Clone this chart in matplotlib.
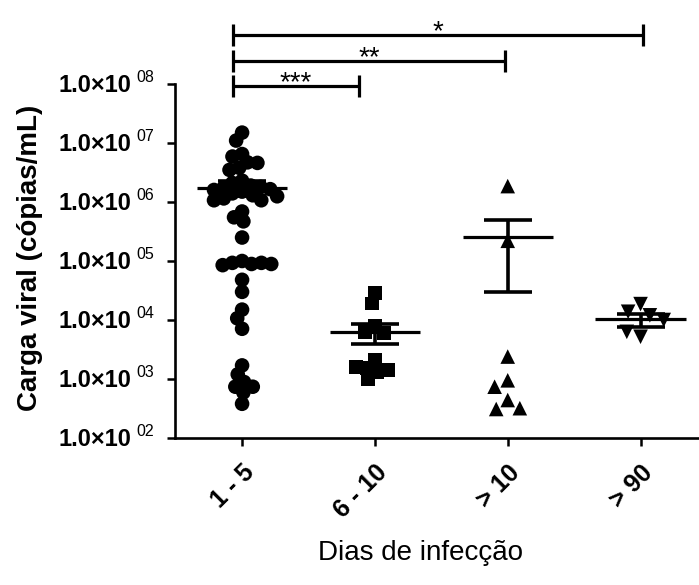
import matplotlib
matplotlib.use("Agg")
import matplotlib.pyplot as plt
import matplotlib.transforms as mtransforms
import numpy as np

plt.rcParams["font.family"] = ["Liberation Sans", "DejaVu Sans"]

# dados
grupos = ["1 - 5", "6 - 10", "> 10", "> 90"]
carga_1_5 = [1.5e7, 1.1e7, 6.5e6, 5.9e6, 4.7e6, 4.6e6, 3.8e6, 3.5e6, 2.3e6,
             2.1e6, 1.9e6, 1.8e6, 1.75e6, 1.65e6, 1.6e6, 1.5e6, 1.4e6, 1.3e6,
             1.25e6, 1.15e6, 1.07e6, 1.07e6, 6.9e5, 5.5e5, 4.7e5, 2.5e5,
             1.0e5, 9.3e4, 8.9e4, 9.3e4, 8.5e4, 8.9e4, 4.8e4, 3.0e4, 1.5e4,
             1.07e4, 7.1e3, 1.7e3, 1.2e3, 8.9e2, 7.4e2, 7.4e2, 5.9e2, 3.8e2]
carga_6_10 = [2.9e4, 1.9e4, 7.8e3, 6.3e3, 6.0e3, 2.1e3, 1.55e3, 1.3e3, 1.0e3,
              1.4e3, 1.6e3]
carga_10 = [1.86e6, 2.2e5, 2.4e3, 9.5e2, 7.4e2, 4.4e2, 3.1e2, 3.2e2]
carga_90 = [1.86e4, 1.38e4, 1.2e4, 1.0e4, 5.2e3, 6.3e3]
medias = [1.74e6, 6.3e3, 2.6e5, 1.02e4]
epm = [5.0e5, 2.4e3, 2.3e5, 2.5e3]
expoentes = [2, 3, 4, 5, 6, 7, 8]
comparacoes = [("***", 0.88, 7.97), ("**", 1.98, 8.39), ("*", 3.02, 8.83)]

dados = [carga_1_5, carga_6_10, carga_10, carga_90]
marcadores = ["o", "s", "^", "v"]
tamanhos = [10.5, 10, 10.5, 10.5]
folga = [0.68, 0.8, 1.0, 1.0]

fig = plt.figure(figsize=(6.99, 5.85), dpi=100)
ax = fig.add_axes([175 / 699, 1 - 438 / 585, 524 / 699, 354 / 585])
ax.set_yscale("log")
ax.set_ylim(1e2, 1e8)
ax.set_xlim(-0.505, 3.44)


def swarm(ypix, d):
    xs = np.zeros(len(ypix))
    feitos = []
    for i in range(len(ypix)):
        y = ypix[i]
        cands = [0.0]
        ints = []
        for px, py in feitos:
            dy = abs(py - y)
            if dy < d:
                w = np.sqrt(d * d - dy * dy)
                ints.append((px - w, px + w))
                cands += [px - w, px + w]
        cands.sort(key=abs)
        for c in cands:
            if all(not (a + 1e-6 < c < b - 1e-6) for a, b in ints):
                xs[i] = c
                break
        feitos.append((xs[i], y))
    return xs


px_por_x = ax.transData.transform((1, 1e4))[0] - ax.transData.transform((0, 1e4))[0]
for i, vals in enumerate(dados):
    vals = np.array(vals)
    ypix = ax.transData.transform(np.column_stack([np.zeros(len(vals)), vals]))[:, 1]
    dx = swarm(ypix, tamanhos[i] * 1.39 * folga[i]) / px_por_x
    ax.scatter(i + dx, vals, marker=marcadores[i], s=tamanhos[i] ** 2,
               color="black", edgecolors="none", zorder=3)

x = np.arange(len(grupos))
ax.hlines(medias, x - 0.34, x + 0.34, color="black", lw=2.3, zorder=4)
ax.errorbar(x, medias, yerr=epm, fmt="none", ecolor="black", elinewidth=2.6,
            capsize=17, capthick=2.6, zorder=4)

# barras de significancia
for txt, fim, nivel in comparacoes:
    y = 10 ** nivel
    ax.plot([-0.07, fim], [y, y], color="black", lw=2.3, clip_on=False,
            solid_capstyle="butt")
    for xx in (-0.07, fim):
        ax.plot([xx, xx], [10 ** (nivel - 0.19), 10 ** (nivel + 0.19)],
                color="black", lw=2.3, clip_on=False, solid_capstyle="butt")
    ax.annotate(txt, ((-0.07 + fim) / 2, y), xytext=(0, -3),
                textcoords="offset points", ha="center", va="baseline",
                fontsize=20, annotation_clip=False)

# eixo y: 1.0x10 com expoente
ax.set_yticks([10.0 ** k for k in expoentes])
ax.set_yticklabels([])
ax.minorticks_off()
tr = ax.get_yaxis_transform()
for k in expoentes:
    ax.annotate("1.0×10", (0, 10.0 ** k), xycoords=tr, xytext=(-31.5, -5.8),
                textcoords="offset points", ha="right", va="baseline",
                fontsize=17, fontweight="bold", annotation_clip=False)
    ax.annotate("%02d" % k, (0, 10.0 ** k), xycoords=tr, xytext=(-28, 1.5),
                textcoords="offset points", ha="left", va="baseline",
                fontsize=11.5, annotation_clip=False)

ax.set_xticks(x)
ax.set_xticklabels(grupos, rotation=45, ha="right", rotation_mode="anchor",
                   fontsize=18, fontweight="bold")
desloc = mtransforms.ScaledTranslation(-0.09, -0.04, fig.dpi_scale_trans)
for lb in ax.get_xticklabels():
    lb.set_transform(lb.get_transform() + desloc)
ax.tick_params(axis="both", direction="out", length=6, width=1.8, colors="black")
ax.tick_params(axis="x", pad=10)
for s in ["top", "right"]:
    ax.spines[s].set_visible(False)
for s in ["left", "bottom"]:
    ax.spines[s].set_linewidth(1.9)

fig.text(30 / 699, 1 - 258 / 585, "Carga viral (cópias/mL)", rotation=90,
         ha="center", va="center", fontsize=20, fontweight="bold")
fig.text(420 / 699, 1 - 553 / 585, "Dias de infecção", ha="center", va="center",
         fontsize=20)

fig.savefig("out.png", dpi=100)
